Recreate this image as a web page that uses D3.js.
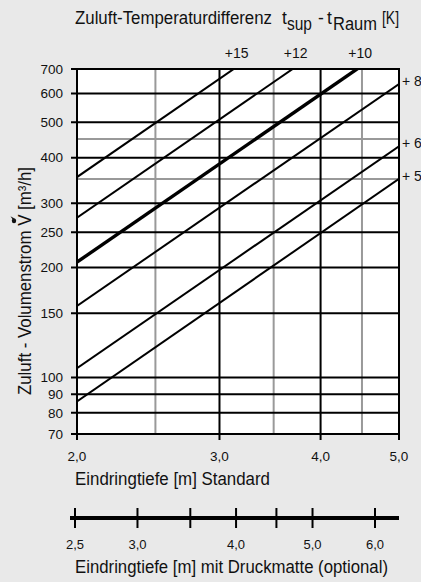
<!DOCTYPE html>
<html>
<head>
<meta charset="utf-8">
<script src="https://cdn.jsdelivr.net/npm/d3@7"></script>
<style>
  html, body { margin: 0; padding: 0; background: #e9e9e9; }
  svg { display: block; }
  text { font-family: "Liberation Sans Narrow", "Arial Narrow", "Liberation Sans", Arial, sans-serif; fill: #111; }
  .num { font-family: "Liberation Sans", Arial, sans-serif; }
</style>
</head>
<body>
<svg id="chart" width="421" height="582"></svg>
<script>
// Supply-air temperature difference of each line [K]
const deltaT = [5, 6, 8, 10, 12, 15];
// Air flow [m³/h] read at throw 2,0 m and 5,0 m for each line
const flowAt2 = [86, 106, 157, 207, 274, 354];
const flowAt5 = [350, 430, 637, 840, 1112, 1437];
const lineLabels = ["+ 5", "+ 6", "+ 8", "+10", "+12", "+15"];

// Axis ticks
const flowTicks = [70, 80, 90, 100, 150, 200, 250, 300, 400, 500, 600, 700];
const flowMinor = [350, 450];
const throwTicks = [2, 3, 4, 5];
const throwMinor = [2.5, 3.5, 4.5];
const matTicks = [2.5, 3, 3.5, 4, 4.5, 5, 6];
const matLabelled = [2.5, 3, 4, 5, 6];

const svg = d3.select("#chart");
const plotL = 77, plotR = 399, plotT = 69, plotB = 434;

const x = d3.scaleLog().domain([2, 5]).range([plotL, plotR]);
const y = d3.scaleLog().domain([70, 700]).range([plotB, plotT]);
const xMat = d3.scaleLog().domain([2.5, 6]).range([75, 375]);
const fmt = v => d3.format(".1f")(v).replace(".", ",");

// Title
const title = svg.append("g").style("font-size", "17.5px");
title.append("text").attr("x", 75).attr("y", 24).attr("textLength", 197).attr("lengthAdjust", "spacingAndGlyphs").text("Zuluft-Temperaturdifferenz");
title.append("text").attr("x", 282).attr("y", 24).text("t");
title.append("text").attr("x", 287).attr("y", 30).attr("textLength", 25).attr("lengthAdjust", "spacingAndGlyphs").text("sup");
title.append("text").attr("x", 318).attr("y", 24).text("-");
title.append("text").attr("x", 327).attr("y", 24).text("t");
title.append("text").attr("x", 333).attr("y", 30).attr("textLength", 44).attr("lengthAdjust", "spacingAndGlyphs").text("Raum");
title.append("text").attr("x", 382).attr("y", 24).attr("textLength", 17).attr("lengthAdjust", "spacingAndGlyphs").text("[K]");

// Plot background
svg.append("rect").attr("x", plotL).attr("y", plotT).attr("width", plotR - plotL).attr("height", plotB - plotT).attr("fill", "#fff");

// Minor (grey) grid
svg.append("g").selectAll("line").data(flowMinor).join("line")
  .attr("x1", plotL).attr("x2", plotR).attr("y1", d => y(d)).attr("y2", d => y(d))
  .attr("stroke", "#999").attr("stroke-width", 2);
svg.append("g").selectAll("line").data(throwMinor).join("line")
  .attr("x1", d => x(d)).attr("x2", d => x(d)).attr("y1", plotT).attr("y2", plotB)
  .attr("stroke", "#999").attr("stroke-width", 2);

// Major grid with short outer ticks
svg.append("g").selectAll("line").data(flowTicks).join("line")
  .attr("x1", plotL - 6).attr("x2", plotR).attr("y1", d => y(d)).attr("y2", d => y(d))
  .attr("stroke", "#000").attr("stroke-width", 2);
svg.append("g").selectAll("line").data(throwTicks).join("line")
  .attr("x1", d => x(d)).attr("x2", d => x(d)).attr("y1", plotT).attr("y2", plotB + 6)
  .attr("stroke", "#000").attr("stroke-width", 2);

// Flow lines per temperature difference
svg.append("clipPath").attr("id", "plotClip").append("rect")
  .attr("x", plotL).attr("y", plotT - 1).attr("width", plotR - plotL).attr("height", plotB - plotT + 1);
const lines = deltaT.map((d, i) => ({ d, a: flowAt2[i], b: flowAt5[i], label: lineLabels[i] }));
svg.append("g").attr("clip-path", "url(#plotClip)").selectAll("line").data(lines).join("line")
  .attr("x1", x(2)).attr("y1", d => y(d.a))
  .attr("x2", x(5)).attr("y2", d => y(d.b))
  .attr("stroke", "#000").attr("stroke-width", d => d.d === 10 ? 3.4 : 2)
  .attr("stroke-linecap", "butt");

// Line labels: at the right edge or at the top where a line leaves the grid
lines.forEach(l => {
  if (l.b <= 700) {
    svg.append("text").attr("x", 402).attr("y", y(l.b) - 3).attr("dy", "0.35em")
      .style("font-size", "14px").text(l.label);
  } else {
    const k = Math.log(l.b / l.a) / Math.log(5 / 2);
    const xt = 2 * Math.pow(700 / l.a, 1 / k);
    svg.append("text").attr("x", x(xt) + 3).attr("y", 58).attr("text-anchor", "middle")
      .style("font-size", "14px").text(l.label);
  }
});

// Frame
svg.append("rect").attr("x", plotL).attr("y", plotT).attr("width", plotR - plotL).attr("height", plotB - plotT)
  .attr("fill", "none").attr("stroke", "#000").attr("stroke-width", 2);

// Y tick labels
svg.append("g").selectAll("text").data(flowTicks).join("text")
  .attr("class", "num").attr("x", 63).attr("y", d => y(d)).attr("dy", "0.35em")
  .attr("text-anchor", "end").style("font-size", "13.5px").text(d => d);

// X tick labels
svg.append("g").selectAll("text").data(throwTicks).join("text")
  .attr("class", "num").attr("x", d => x(d)).attr("y", 461)
  .attr("text-anchor", "middle").style("font-size", "13.5px").text(fmt);

svg.append("text").attr("x", 75).attr("y", 485).style("font-size", "17.5px")
  .attr("textLength", 195).attr("lengthAdjust", "spacingAndGlyphs").text("Eindringtiefe [m]  Standard");

// Y axis title, with the flow-rate dot drawn over the V
const yTitleText = "Zuluft - Volumenstrom V [m³/h]";
const yTitleG = svg.append("g").attr("transform", "translate(31,281) rotate(-90)");
const yTitle = yTitleG.append("text").attr("text-anchor", "middle")
  .style("font-size", "17.5px").attr("textLength", 228).attr("lengthAdjust", "spacingAndGlyphs")
  .text(yTitleText);
const vIndex = yTitleText.indexOf("V [");
const node = yTitle.node();
const vStart = node.getStartPositionOfChar(vIndex).x;
const vEnd = node.getEndPositionOfChar(vIndex).x;
const vCx = (vStart + vEnd) / 2;
yTitleG.append("ellipse").attr("cx", vCx - 0.5).attr("cy", -17).attr("rx", 2.6).attr("ry", 2.2).attr("fill", "#111");
yTitleG.append("path")
  .attr("d", `M${vCx + 1},${-18.5} L${vCx + 4},${-20.5} L${vCx + 1.8},${-16.5} Z`)
  .attr("fill", "#111");

// Throw scale with pressure mat
svg.append("line").attr("x1", 70).attr("x2", 399).attr("y1", 518).attr("y2", 518)
  .attr("stroke", "#000").attr("stroke-width", 4);
svg.append("g").selectAll("line").data(matTicks).join("line")
  .attr("x1", d => xMat(d)).attr("x2", d => xMat(d)).attr("y1", 508).attr("y2", 528)
  .attr("stroke", "#000").attr("stroke-width", 2);
svg.append("g").selectAll("text").data(matLabelled).join("text")
  .attr("class", "num").attr("x", d => xMat(d)).attr("y", 549)
  .attr("text-anchor", "middle").style("font-size", "13px").text(fmt);
svg.append("text").attr("x", 75).attr("y", 573).style("font-size", "17.5px")
  .attr("textLength", 313).attr("lengthAdjust", "spacingAndGlyphs").text("Eindringtiefe [m]  mit Druckmatte (optional)");
</script>
</body>
</html>
